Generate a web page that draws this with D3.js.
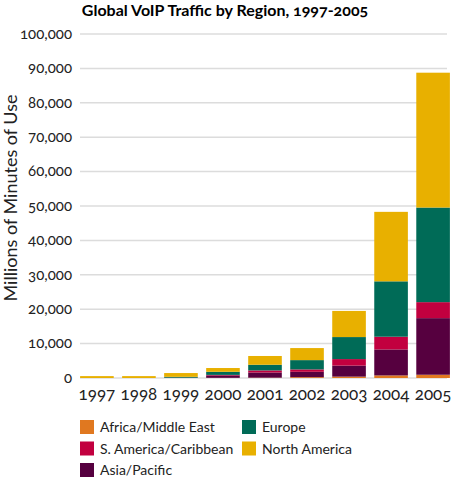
<!DOCTYPE html>
<html>
<head>
<meta charset="utf-8">
<title>Global VoIP Traffic</title>
<style>
  body, html { margin: 0; padding: 0; background: #fff; }
  svg { display: block; font-family: Lato, "Noto Sans", sans-serif; font-feature-settings: "onum" 1; font-variant-numeric: oldstyle-nums; }
</style>
</head>
<body>
<svg id="svg" width="452" height="479"></svg>
<script src="https://d3js.org/d3.v7.min.js"></script>
<script>
  // values, millions of minutes
  const years = ['1997', '1998', '1999', '2000', '2001', '2002', '2003', '2004', '2005']
  const africa = [0, 0, 20, 50, 100, 250, 400, 750, 950]
  const asia = [0, 0, 50, 700, 1500, 1550, 3200, 7550, 16450]
  const southAmerica = [0, 0, 20, 150, 600, 700, 1900, 3700, 4650]
  const europe = [0, 0, 250, 900, 1650, 2700, 6400, 16100, 27500]
  const northAmerica = [550, 550, 1100, 1100, 2550, 3500, 7600, 20200, 39200]
  const yTicks = [0, 10000, 20000, 30000, 40000, 50000, 60000, 70000, 80000, 90000, 100000]

  const series = [
    { key: 'africa', name: 'Africa/Middle East', color: '#e07820', values: africa },
    { key: 'asia', name: 'Asia/Pacific', color: '#56003f', values: asia },
    { key: 'samerica', name: 'S. America/Caribbean', color: '#c2003f', values: southAmerica },
    { key: 'europe', name: 'Europe', color: '#006b57', values: europe },
    { key: 'namerica', name: 'North America', color: '#e8b000', values: northAmerica }
  ]
  const legendOrder = ['africa', 'europe', 'samerica', 'namerica', 'asia']

  const rows = years.map((y, i) => {
    const r = { year: y }
    series.forEach(s => r[s.key] = s.values[i])
    return r
  })

  const svg = d3.select('#svg')
  const x = d3.scaleBand().domain(years).range([78, 452]).paddingInner(0.2).paddingOuter(0.05)
  const y = d3.scaleLinear().domain([0, 100000]).range([378, 34])
  const fmt = d3.format(',')

  // title
  svg.append('text')
    .attr('x', 225).attr('y', 16)
    .attr('text-anchor', 'middle')
    .attr('font-size', 16).attr('font-weight', 'bold')
    .text('Global VoIP Traffic by Region, 1997-2005')

  // grid
  svg.append('g').selectAll('line')
    .data(yTicks).join('line')
    .attr('x1', 80).attr('x2', 447)
    .attr('y1', d => y(d)).attr('y2', d => y(d))
    .attr('stroke', '#dcdcdc').attr('stroke-width', 1.5)

  svg.append('g').selectAll('text')
    .data(yTicks).join('text')
    .attr('x', 72).attr('y', d => y(d))
    .attr('dy', '0.32em')
    .attr('text-anchor', 'end')
    .attr('font-size', 15)
    .attr('fill', '#222')
    .text(d => fmt(d))

  svg.append('text')
    .attr('transform', 'translate(17,198) rotate(-90)')
    .attr('text-anchor', 'middle')
    .attr('font-size', 18)
    .attr('fill', '#222')
    .text('Millions of Minutes of Use')

  const stack = d3.stack().keys(series.map(s => s.key))(rows)
  const colorOf = d3.scaleOrdinal().domain(series.map(s => s.key)).range(series.map(s => s.color))

  svg.append('g').selectAll('g')
    .data(stack).join('g')
    .attr('fill', d => colorOf(d.key))
    .selectAll('rect')
    .data(d => d).join('rect')
    .attr('x', d => x(d.data.year))
    .attr('width', x.bandwidth())
    .attr('y', d => y(d[1]))
    .attr('height', d => y(d[0]) - y(d[1]))

  // year labels
  svg.append('g').selectAll('text')
    .data(years).join('text')
    .attr('x', d => x(d) + x.bandwidth() / 2)
    .attr('y', 400)
    .attr('text-anchor', 'middle')
    .attr('font-size', 17)
    .attr('fill', '#222')
    .text(d => d)

  // legend
  const legend = svg.append('g').selectAll('g')
    .data(legendOrder.map(k => series.find(s => s.key === k))).join('g')
    .attr('transform', (d, i) => `translate(${i % 2 === 0 ? 80 : 242}, ${420 + Math.floor(i / 2) * 21.5})`)
  legend.append('rect')
    .attr('width', 14).attr('height', 14)
    .attr('fill', d => d.color)
  legend.append('text')
    .attr('x', 20).attr('y', 12)
    .attr('font-size', 14)
    .attr('fill', '#222')
    .text(d => d.name)
</script>
</body>
</html>
